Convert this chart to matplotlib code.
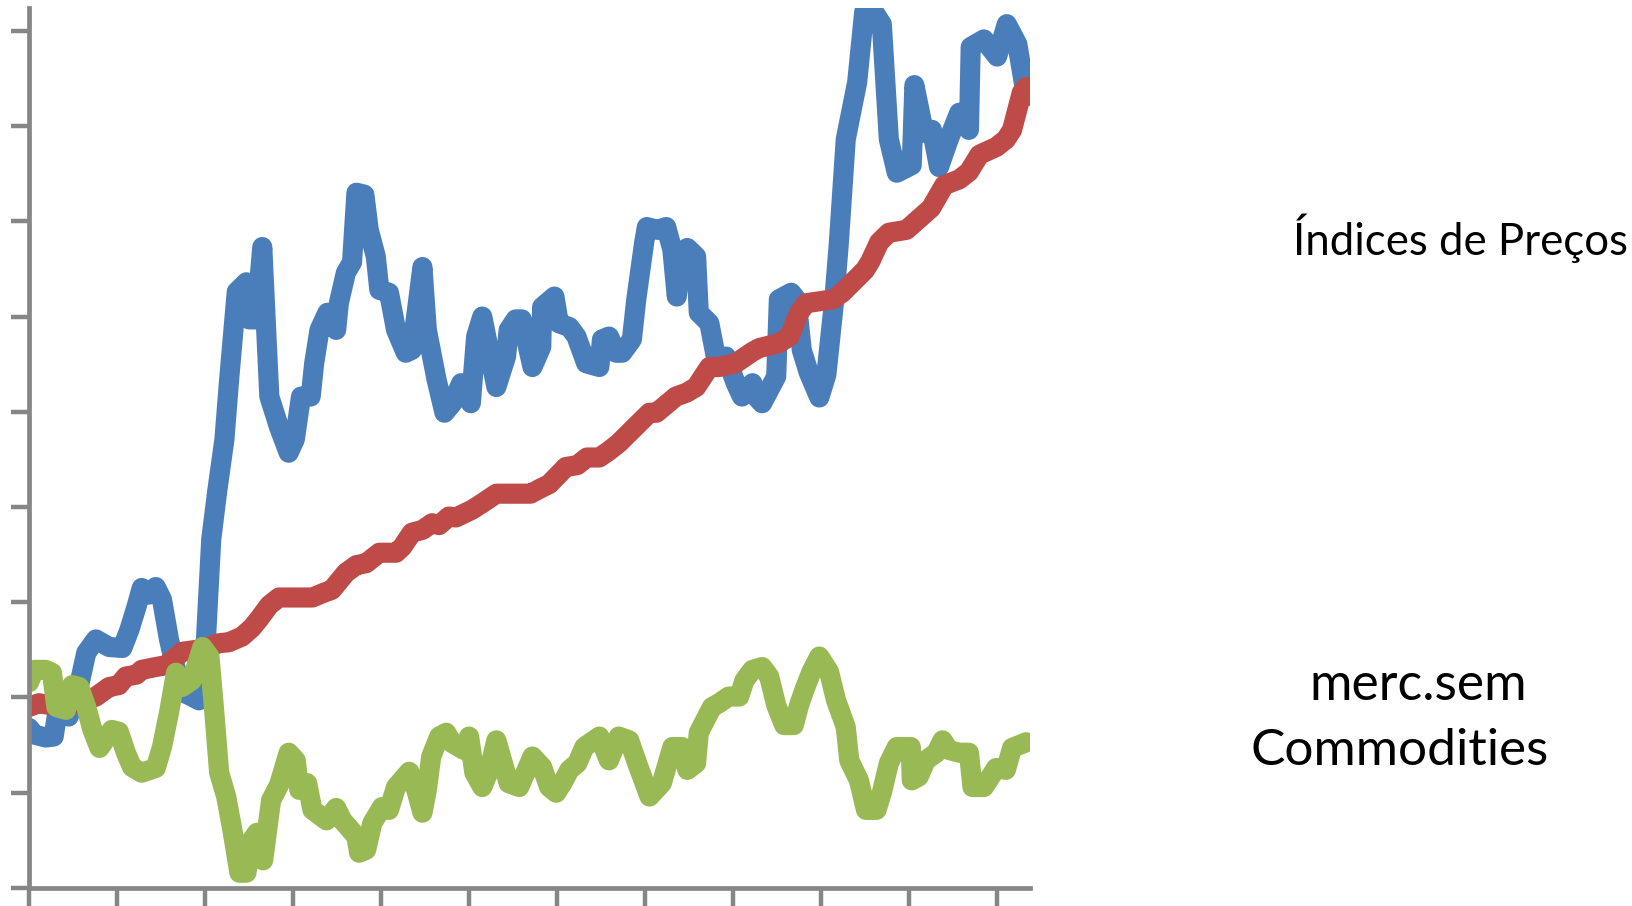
import numpy as np
import matplotlib
matplotlib.use("Agg")
import matplotlib.pyplot as plt

# Series read as (time in years, index level in tick units)
t_blue = [0.00, 0.06, 0.19, 0.28, 0.32, 0.45, 0.55, 0.65, 0.76, 0.91, 1.06, 1.14, 1.22, 1.28, 1.36,
          1.44, 1.51, 1.59, 1.67, 1.76, 1.85, 1.93, 2.01, 2.07, 2.14, 2.22, 2.27, 2.36, 2.47, 2.50,
          2.58, 2.65, 2.73, 2.84, 2.95, 3.02, 3.09, 3.20, 3.24, 3.30, 3.39, 3.49, 3.52, 3.60, 3.67,
          3.72, 3.81, 3.86, 3.94, 3.98, 4.09, 4.17, 4.28, 4.35, 4.47, 4.52, 4.63, 4.72, 4.81, 4.91,
          5.02, 5.08, 5.15, 5.31, 5.42, 5.45, 5.53, 5.60, 5.72, 5.82, 5.83, 5.97, 6.02, 6.14, 6.22,
          6.33, 6.48, 6.51, 6.59, 6.67, 6.74, 6.85, 6.90, 6.99, 7.02, 7.14, 7.24, 7.31, 7.36, 7.42,
          7.48, 7.58, 7.61, 7.73, 7.81, 7.92, 8.03, 8.10, 8.22, 8.26, 8.33, 8.49, 8.52, 8.66, 8.72,
          8.78, 8.86, 8.98, 9.06, 9.15, 9.20, 9.28, 9.41, 9.49, 9.60, 9.69, 9.77, 9.86, 10.03, 10.06,
          10.17, 10.26, 10.34, 10.45, 10.57, 10.68, 10.70, 10.85, 11.00, 11.11, 11.23, 11.33]
blue = [1.68, 1.61, 1.58, 1.59, 1.84, 1.80, 2.05, 2.47, 2.61, 2.53, 2.52, 2.71, 2.95, 3.15, 3.08,
        3.16, 3.03, 2.61, 2.29, 2.05, 2.01, 1.97, 2.61, 3.66, 4.18, 4.71, 5.30, 6.26, 6.36, 5.97,
        5.97, 6.73, 5.16, 4.84, 4.57, 4.71, 5.16, 5.16, 5.51, 5.86, 6.04, 5.86, 6.14, 6.46, 6.57,
        7.30, 7.28, 6.91, 6.63, 6.28, 6.25, 5.86, 5.62, 5.65, 6.52, 5.86, 5.34, 4.99, 5.09, 5.30,
        5.09, 5.79, 6.00, 5.26, 5.58, 5.86, 5.97, 5.97, 5.47, 5.68, 6.10, 6.21, 5.93, 5.89, 5.79,
        5.51, 5.47, 5.76, 5.79, 5.62, 5.62, 5.76, 6.18, 6.78, 6.94, 6.91, 6.94, 6.70, 6.21, 6.67,
        6.72, 6.63, 6.04, 5.93, 5.55, 5.58, 5.30, 5.16, 5.30, 5.16, 5.09, 5.37, 6.18, 6.25, 6.18,
        5.65, 5.41, 5.15, 5.39, 6.18, 6.75, 7.86, 8.46, 9.20, 9.20, 9.07, 7.86, 7.51, 7.59, 8.43,
        7.93, 7.96, 7.57, 7.86, 8.14, 7.96, 8.83, 8.91, 8.73, 9.07, 8.86, 8.31]

t_red = [0.00, 0.11, 0.38, 0.65, 0.76, 0.91, 1.02, 1.10, 1.22, 1.28, 1.44, 1.56, 1.63, 1.74, 1.90,
         2.01, 2.16, 2.27, 2.42, 2.53, 2.61, 2.73, 2.84, 3.22, 3.35, 3.44, 3.60, 3.72, 3.83, 3.98,
         4.17, 4.24, 4.35, 4.47, 4.58, 4.66, 4.77, 4.85, 5.03, 5.15, 5.31, 5.70, 5.80, 5.91, 6.10,
         6.23, 6.34, 6.48, 6.59, 6.70, 7.05, 7.13, 7.35, 7.47, 7.58, 7.73, 7.84, 8.03, 8.22, 8.30,
         8.52, 8.64, 8.75, 8.83, 9.13, 9.24, 9.50, 9.56, 9.66, 9.77, 9.97, 10.25, 10.40, 10.57,
         10.68, 10.80, 10.99, 11.10, 11.17, 11.28, 11.33]
red = [1.90, 1.94, 1.90, 1.97, 2.01, 2.11, 2.13, 2.22, 2.24, 2.29, 2.32, 2.34, 2.39, 2.48, 2.50,
       2.52, 2.57, 2.58, 2.64, 2.73, 2.82, 2.97, 3.05, 3.05, 3.10, 3.13, 3.31, 3.39, 3.41, 3.52,
       3.52, 3.58, 3.73, 3.76, 3.83, 3.81, 3.90, 3.89, 3.97, 4.04, 4.14, 4.14, 4.19, 4.24, 4.42,
       4.44, 4.52, 4.52, 4.59, 4.67, 4.99, 4.99, 5.16, 5.20, 5.26, 5.47, 5.47, 5.51, 5.63, 5.67,
       5.72, 5.79, 6.04, 6.14, 6.18, 6.25, 6.49, 6.58, 6.78, 6.88, 6.91, 7.14, 7.38, 7.44,
       7.52, 7.70, 7.78, 7.86, 7.96, 8.35, 8.41]

t_green = [0.00, 0.06, 0.19, 0.26, 0.31, 0.42, 0.49, 0.57, 0.65, 0.72, 0.80, 0.94, 1.02, 1.10, 1.17,
           1.28, 1.44, 1.51, 1.59, 1.67, 1.74, 1.85, 1.97, 2.05, 2.10, 2.16, 2.24, 2.31, 2.39, 2.47,
           2.53, 2.59, 2.66, 2.75, 2.84, 2.95, 3.03, 3.07, 3.16, 3.22, 3.38, 3.49, 3.56, 3.72, 3.75,
           3.83, 3.90, 4.01, 4.09, 4.17, 4.32, 4.40, 4.47, 4.52, 4.57, 4.66, 4.74, 4.81, 4.94, 5.00,
           5.06, 5.15, 5.23, 5.31, 5.45, 5.57, 5.72, 5.83, 5.91, 5.99, 6.06, 6.14, 6.23, 6.31, 6.48,
           6.59, 6.70, 6.82, 6.91, 7.05, 7.19, 7.31, 7.42, 7.48, 7.58, 7.61, 7.76, 7.84, 7.95, 8.07,
           8.13, 8.22, 8.33, 8.41, 8.49, 8.58, 8.69, 8.75, 8.81, 8.89, 8.98, 9.09, 9.17, 9.28, 9.32,
           9.43, 9.51, 9.63, 9.69, 9.77, 9.86, 10.02, 10.03, 10.11, 10.19, 10.31, 10.38, 10.45,
           10.57, 10.68, 10.72, 10.85, 10.99, 11.10, 11.17, 11.33]
green = [2.16, 2.29, 2.29, 2.26, 1.90, 1.87, 2.13, 2.11, 1.90, 1.66, 1.47, 1.66, 1.64, 1.42, 1.27,
         1.21, 1.26, 1.48, 1.84, 2.26, 2.11, 2.18, 2.53, 2.43, 1.90, 1.21, 0.96, 0.61, 0.16, 0.16,
         0.50, 0.58, 0.29, 0.92, 1.08, 1.42, 1.34, 1.03, 1.10, 0.82, 0.71, 0.84, 0.71, 0.54, 0.37,
         0.40, 0.68, 0.85, 0.82, 1.06, 1.22, 1.03, 0.79, 1.03, 1.38, 1.59, 1.63, 1.52, 1.45, 1.59,
         1.21, 1.06, 1.24, 1.55, 1.10, 1.06, 1.38, 1.27, 1.06, 1.00, 1.10, 1.24, 1.31, 1.48, 1.59,
         1.34, 1.59, 1.55, 1.31, 0.96, 1.10, 1.48, 1.48, 1.24, 1.31, 1.63, 1.90, 1.94, 2.01, 2.01,
         2.18, 2.29, 2.32, 2.22, 1.92, 1.71, 1.71, 1.92, 2.08, 2.27, 2.43, 2.27, 1.97, 1.69, 1.34,
         1.13, 0.82, 0.82, 1.00, 1.31, 1.48, 1.48, 1.13, 1.17, 1.34, 1.42, 1.55, 1.45,
         1.42, 1.42, 1.06, 1.06, 1.26, 1.24, 1.47, 1.53]

label_top = "Índices de Preços"
label_bottom = ["merc.sem", "Commodities"]

c_blue = "#4a7ebb"
c_red = "#be4b48"
c_green = "#98b954"
c_axis = "#868686"

plt.rcParams['font.family'] = ['Lato', 'DejaVu Sans']

fig = plt.figure(figsize=(16.33, 9.06), dpi=100)
ax = fig.add_axes([0.0178, 0.0199, 0.6130, 0.9713])

style = dict(lw=14.5, solid_capstyle='round', solid_joinstyle='round')
ax.plot(t_blue, blue, color=c_blue, **style)
ax.plot(t_red, red, color=c_red, **style)
ax.plot(t_green, green, color=c_green, **style)

ax.set_xlim(0, 11.375)
ax.set_ylim(0, 9.24)
ax.set_xticks(np.arange(0, 12))
ax.set_yticks(np.arange(0, 10))
ax.set_xticklabels([])
ax.set_yticklabels([])
ax.tick_params(direction='out', length=13, width=3.2, color=c_axis)
for side in ['top', 'right']:
    ax.spines[side].set_visible(False)
for side in ['left', 'bottom']:
    ax.spines[side].set_color(c_axis)
    ax.spines[side].set_linewidth(3.4)

fig.text(0.7918, 0.7185, label_top, fontsize=31.5, va='baseline', ha='left')
fig.text(0.8016, 0.2274, label_bottom[0], fontsize=37.3, va='baseline', ha='left')
fig.text(0.7655, 0.1556, label_bottom[1], fontsize=37.0, va='baseline', ha='left')

fig.savefig("out.png", dpi=100, facecolor='white')
